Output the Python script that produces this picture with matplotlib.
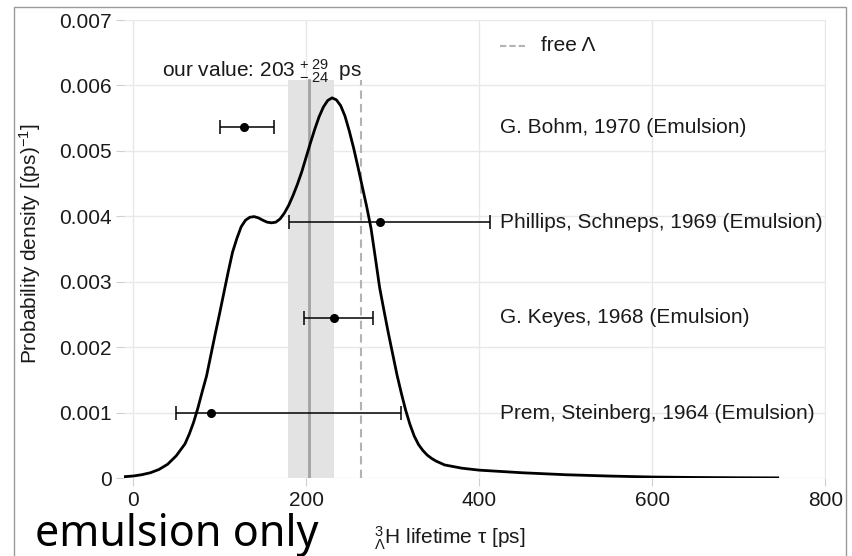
import numpy as np
import matplotlib
matplotlib.use("Agg")
import matplotlib.pyplot as plt
from matplotlib.patches import Rectangle

plt.rcParams['font.family'] = ['Liberation Sans', 'DejaVu Sans']
plt.rcParams['mathtext.fontset'] = 'custom'
plt.rcParams['mathtext.rm'] = 'Liberation Sans'
plt.rcParams['mathtext.it'] = 'Liberation Sans:italic'
plt.rcParams['mathtext.bf'] = 'Liberation Sans:bold'

# posterior density of the lifetime
TAU = [-10, 0, 10, 20, 30, 40, 50, 60, 65, 70, 75, 80, 85, 90, 95, 100,
       105, 110, 115, 120, 125, 130, 135, 140, 145, 150, 155, 160, 165,
       170, 175, 180, 185, 190, 195, 200, 205, 210, 215, 220, 225, 230,
       235, 240, 245, 250, 255, 260, 265, 270, 275, 280, 285, 290, 295,
       300, 305, 310, 315, 320, 325, 330, 335, 340, 345, 350, 360, 380,
       400, 450, 500, 550, 600, 650, 700, 745]
DENSITY = [0.00002, 0.00003, 0.00005, 0.00008, 0.00013, 0.00021, 0.00034,
           0.00052, 0.00067, 0.00085, 0.00107, 0.00132, 0.00156, 0.00188,
           0.00220, 0.00251, 0.00283, 0.00315, 0.00345, 0.00366, 0.00384,
           0.00394, 0.003985, 0.003995, 0.003975, 0.00394, 0.00391, 0.00390,
           0.00391, 0.00396, 0.00405, 0.00417, 0.00432, 0.00449, 0.00468,
           0.00490, 0.00512, 0.00533, 0.00552, 0.00567, 0.00577, 0.00581,
           0.00578, 0.00569, 0.00553, 0.00530, 0.00504, 0.00475, 0.00445,
           0.00415, 0.00382, 0.00337, 0.00291, 0.00256, 0.00222, 0.00190,
           0.00158, 0.00130, 0.00104, 0.00082, 0.00064, 0.00051, 0.00042,
           0.00035, 0.00030, 0.00026, 0.00020, 0.00015, 0.00012, 0.00008,
           0.00005, 0.00003, 0.000015, 0.000008, 0.000004, 0.000002]

# older emulsion measurements
REF_LABELS = ["G. Bohm, 1970 (Emulsion)",
              "Phillips, Schneps, 1969 (Emulsion)",
              "G. Keyes, 1968 (Emulsion)",
              "Prem, Steinberg, 1964 (Emulsion)"]
REF_VALUE = [128, 285, 232, 90]
REF_ERR_LO = [27, 105, 34, 40]
REF_ERR_HI = [35, 127, 45, 220]
REF_YPOS = [0.00536, 0.00391, 0.002446, 0.00099]

OUR_VALUE = 203
OUR_ERR_LO = 24
OUR_ERR_HI = 29
FREE_LAMBDA = 263.2

X_TICKS = [0, 200, 400, 600, 800]
Y_TICKS = [0, 0.001, 0.002, 0.003, 0.004, 0.005, 0.006, 0.007]
Y_TICKLABELS = ["0", "0.001", "0.002", "0.003", "0.004", "0.005", "0.006", "0.007"]

FS = 15
TXT = '#1a1a1a'


def draw(output_file):
    fig = plt.figure(figsize=(8.52, 5.56), dpi=100)
    fig.patch.set_facecolor('white')

    # slide frame
    fig.patches.append(Rectangle((14 / 852, -0.05), (846 - 14) / 852, 1.05 - 7 / 556,
                                 transform=fig.transFigure, fill=False,
                                 edgecolor='#9a9a9a', lw=1.0))

    ax = fig.add_axes([124 / 852, 1 - 478 / 556, (826 - 124) / 852, (478 - 20) / 556])
    ax.set_xlim(-10.4, 800.8)
    ax.set_ylim(0, 0.007)

    # grid (ggplot-like)
    ax.set_axisbelow(True)
    ax.grid(True, color='#e8e8e8', lw=1.0)
    for s in ax.spines.values():
        s.set_visible(False)
    ax.tick_params(axis='both', length=6, width=0.8, color='#cfcfcf',
                   labelsize=FS, labelcolor=TXT, pad=3)
    ax.set_xticks(X_TICKS)
    ax.set_yticks(Y_TICKS)
    ax.set_yticklabels(Y_TICKLABELS)

    # our value band + line, free Lambda
    top = 0.00608
    ax.fill_between([OUR_VALUE - OUR_ERR_LO, OUR_VALUE + OUR_ERR_HI], 0, top,
                    color='#e3e3e3', lw=0, zorder=1)
    ax.plot([OUR_VALUE, OUR_VALUE], [0, top], color='#a3a3a3', lw=2.0, zorder=2)
    ax.plot([FREE_LAMBDA, FREE_LAMBDA], [0, top], color='#b3b3b3', lw=1.5,
            dashes=(4, 2.5), zorder=2)

    # density
    ax.plot(TAU, DENSITY, color='black', lw=2.0, zorder=4,
            solid_joinstyle='round')

    # reference measurements
    ax.errorbar(REF_VALUE, REF_YPOS, xerr=[REF_ERR_LO, REF_ERR_HI],
                fmt='o', color='black', ms=5.5, elinewidth=1.1,
                capsize=5.2, capthick=1.1, zorder=5)
    for lab, y in zip(REF_LABELS, REF_YPOS):
        ax.text(424, y, lab, fontsize=FS, va='center', ha='left', color=TXT)

    # legend-like entry for free Lambda
    ax.plot([424, 455], [0.00661, 0.00661], color='#b3b3b3', lw=1.5,
            dashes=(3, 1.5))
    ax.text(471, 0.00661, 'free Λ', fontsize=FS, va='center', ha='left',
            color=TXT)

    ax.text(33, 0.00613, r'our value: 203$\;{}^{+\;29}_{-\;24}\;$ ps', fontsize=FS,
            va='baseline', ha='left', color=TXT)

    # axis labels
    fig.text(30 / 852, 1 - 244 / 556, r'Probability density [(ps)$^{-1}$]',
             rotation=90, fontsize=FS, ha='center', va='center', color=TXT)
    fig.text(450 / 852, 1 - 538 / 556, r'${}^{3}_{\Lambda}$H lifetime τ [ps]',
             fontsize=FS, ha='center', va='center', color=TXT)

    # slide caption
    fig.text(35 / 852, 1 - 546 / 556, 'emulsion only', fontsize=31,
             family='Noto Sans', ha='left', va='baseline', color='black')

    fig.savefig(output_file, dpi=100)
    plt.close(fig)
    print(f"✓ Saved: {output_file}")


def main():
    draw("out.png")


if __name__ == "__main__":
    main()
